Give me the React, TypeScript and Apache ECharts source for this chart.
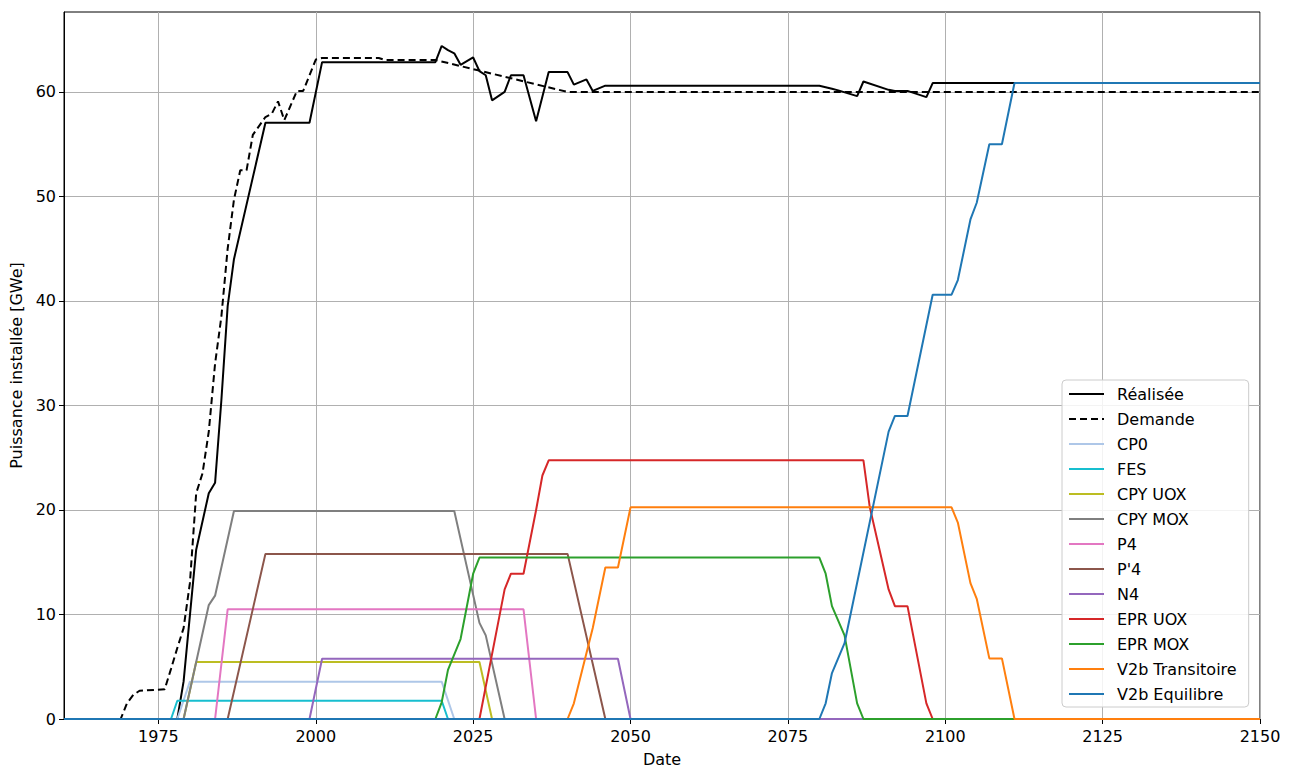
import React, { useEffect, useRef } from 'react';
import * as echarts from 'echarts';

const xTicks = [1975, 2000, 2025, 2050, 2075, 2100, 2125, 2150];
const yTicks = [0, 10, 20, 30, 40, 50, 60];

const realisee = [[1960,0],[1978,0],[1979,3.6],[1981,16.2],[1983,21.6],[1984,22.6],[1985,30.5],[1986,39.5],[1987,44],[1992,57.06],[1999,57.06],[2001,62.85],[2019,62.85],[2020,64.4],[2021,64.0],[2022,63.7],[2023,62.6],[2025,63.3],[2026,62.0],[2027,61.6],[2028,59.2],[2030,60.0],[2031,61.6],[2033,61.6],[2035,57.2],[2037,61.9],[2040,61.9],[2041,60.7],[2043,61.2],[2044,60.1],[2046,60.6],[2080,60.6],[2082,60.3],[2083,60.15],[2086,59.6],[2087,61.0],[2091,60.2],[2092,60.1],[2094,60.1],[2097,59.5],[2098,60.85],[2150,60.85]];
const demande = [[1960,0],[1969,0],[1970,1.5],[1971,2.3],[1972,2.7],[1976,2.85],[1977,4.8],[1978,6.8],[1979,8.7],[1980,13],[1981,21.6],[1982,23.5],[1983,27.5],[1984,34],[1985,38.5],[1986,45],[1987,49.7],[1988,52.5],[1989,52.5],[1990,55.9],[1992,57.6],[1993,57.9],[1994,59.1],[1995,57.3],[1997,60.1],[1998,60.1],[2000,63.1],[2001,63.25],[2010,63.25],[2011,63.06],[2019,63.06],[2040,60],[2150,60]];
const cp0 = [[1960,0],[1978,0],[1980,3.57],[2020,3.57],[2022,0],[2150,0]];
const fes = [[1960,0],[1977,0],[1978,1.75],[2020,1.75],[2021,0],[2150,0]];
const cpyUox = [[1960,0],[1979,0],[1981,5.45],[2026,5.45],[2028,0],[2150,0]];
const cpyMox = [[1960,0],[1979,0],[1983,10.9],[1984,11.8],[1987,19.9],[2022,19.9],[2026,9.2],[2027,8.0],[2030,0],[2150,0]];
const p4 = [[1960,0],[1984,0],[1986,10.5],[2033,10.5],[2035,0],[2150,0]];
const pp4 = [[1960,0],[1986,0],[1992,15.8],[2040,15.8],[2046,0],[2150,0]];
const n4 = [[1960,0],[1999,0],[2001,5.77],[2048,5.77],[2050,0],[2150,0]];
const eprUox = [[1960,0],[2026,0],[2030,12.4],[2031,13.9],[2033,13.9],[2035,20.0],[2036,23.3],[2037,24.75],[2087,24.75],[2088,20.3],[2091,12.4],[2092,10.8],[2094,10.8],[2097,1.5],[2098,0],[2150,0]];
const eprMox = [[1960,0],[2019,0],[2020,1.6],[2021,4.7],[2023,7.65],[2025,13.9],[2026,15.45],[2080,15.45],[2081,13.9],[2082,10.8],[2084,8.0],[2086,1.5],[2087,0],[2150,0]];
const v2bTrans = [[1960,0],[2040,0],[2041,1.5],[2044,8.7],[2046,14.5],[2048,14.5],[2050,20.25],[2101,20.25],[2102,18.8],[2104,13.0],[2105,11.5],[2107,5.8],[2109,5.8],[2111,0],[2150,0]];
const v2bEq = [[1960,0],[2080,0],[2081,1.5],[2082,4.4],[2084,7.25],[2091,27.5],[2092,29.0],[2094,29.0],[2098,40.6],[2101,40.6],[2102,42.0],[2104,47.8],[2105,49.4],[2107,55.0],[2109,55.0],[2111,60.85],[2150,60.85]];

const seriesNames = ['Réalisée', 'Demande', 'CP0', 'FES', 'CPY UOX', 'CPY MOX', 'P4', "P'4", 'N4', 'EPR UOX', 'EPR MOX', 'V2b Transitoire', 'V2b Equilibre'];
const seriesData = [realisee, demande, cp0, fes, cpyUox, cpyMox, p4, pp4, n4, eprUox, eprMox, v2bTrans, v2bEq];
const seriesColors = ['#000000', '#000000', '#aec7e8', '#17becf', '#bcbd22', '#7f7f7f', '#e377c2', '#8c564b', '#9467bd', '#d62728', '#2ca02c', '#ff7f0e', '#1f77b4'];

const FONT = 'DejaVu Sans';
const FS = 16;

export default function App() {
  const ref = useRef<HTMLDivElement>(null);
  useEffect(() => {
    if (!ref.current) return;
    const chart = echarts.init(ref.current, null, { renderer: 'svg' });
    chart.setOption({
      animation: false,
      backgroundColor: '#ffffff',
      textStyle: { fontFamily: FONT },
      grid: {
        left: 64, right: 31, top: 12, bottom: 48,
        outerBoundsMode: 'none', containLabel: false,
        show: true, borderColor: '#000000', borderWidth: 1, backgroundColor: 'transparent'
      },
      xAxis: {
        type: 'value', min: 1960, max: 2150,
        name: 'Date', nameLocation: 'middle', nameGap: 32,
        nameTextStyle: { color: '#000', fontSize: FS, fontFamily: FONT },
        axisLine: { show: true, onZero: false, lineStyle: { color: '#000', width: 1 } },
        axisTick: { show: true, inside: false, length: 5, customValues: xTicks, lineStyle: { color: '#000' } },
        axisLabel: { customValues: xTicks, color: '#000', fontSize: FS, fontFamily: FONT, margin: 9, formatter: (v: number) => String(v) },
        splitLine: { show: true, lineStyle: { color: '#b0b0b0', width: 1 } }
      },
      yAxis: {
        type: 'value', min: 0, max: 67.65,
        name: 'Puissance installée [GWe]', nameLocation: 'middle', nameGap: 38, nameRotate: 90,
        nameTextStyle: { color: '#000', fontSize: FS, fontFamily: FONT },
        axisLine: { show: true, onZero: false, lineStyle: { color: '#000', width: 1 } },
        axisTick: { show: true, inside: false, length: 5, customValues: yTicks, lineStyle: { color: '#000' } },
        axisLabel: { customValues: yTicks, color: '#000', fontSize: FS, fontFamily: FONT, margin: 8, formatter: (v: number) => String(v) },
        splitLine: { show: true, lineStyle: { color: '#b0b0b0', width: 1 } }
      },
      legend: {
        show: true, orient: 'vertical', left: 1062, top: 380,
        data: seriesNames,
        itemWidth: 35, itemHeight: 12, itemGap: 9,
        padding: [6, 12, 5, 6],
        itemStyle: { opacity: 0 },
        backgroundColor: 'rgba(255,255,255,0.85)', borderColor: '#cccccc', borderWidth: 1, borderRadius: 4,
        textStyle: { color: '#000', fontSize: FS, fontFamily: FONT, lineHeight: 16, padding: [0, 0, 0, 8] }
      },
      series: seriesNames.map((name, i) => ({
        name, type: 'line', data: seriesData[i], symbol: 'none', showSymbol: false,
        lineStyle: { color: seriesColors[i], width: 2, type: i === 1 ? [7, 4] : 'solid' },
        itemStyle: { color: seriesColors[i] },
        emphasis: { disabled: true }
      }))
    });
    return () => chart.dispose();
  }, []);
  return <div ref={ref} style={{ position: 'fixed', left: 0, top: 0, width: 1291, height: 767 }} />;
}
